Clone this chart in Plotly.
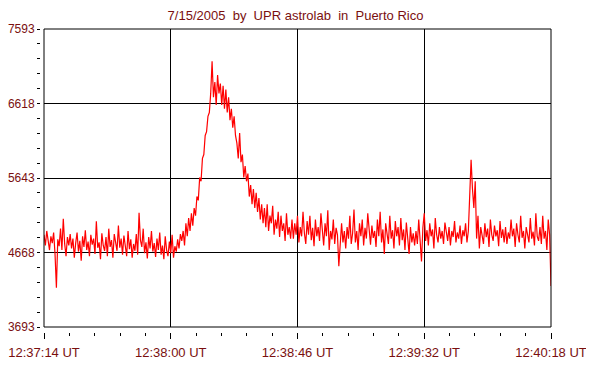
import plotly.graph_objects as go

# sample interval (s) and start of record
t_step = 0.5
values = [
    4900, 4760, 4950, 4820, 4700, 4880, 4790, 4930, 4650, 4206, 4840, 4750, 4980, 4700, 5110, 4780, 4620, 4870, 4760, 4910,
    4720, 4850, 4600, 4790, 4930, 4680, 4820, 4560, 4880, 4740, 4960, 4700, 4810, 4620, 4900, 4770, 4850, 4650, 5075, 4730,
    4800, 4580, 4920, 4760, 4690, 4870, 4620, 4980, 4740, 4830, 4600, 4910, 4780, 4690, 5020, 4730, 4850, 4640, 4890, 4760,
    4620, 4950, 4710, 4840, 4600, 4780, 4690, 4910, 4640, 5188, 4830, 4740, 4980, 4660, 4800, 4590, 4870, 4720, 4950, 4680,
    4790, 4610, 4850, 4700, 4930, 4640, 4760, 4580, 4880, 4700, 4620, 4810, 4660, 4900, 4600, 4750, 4680, 4840, 4720, 4910,
    4820, 4950, 4760, 5050, 4880, 5120, 4950, 5180, 5020, 5250, 5150, 5400, 5350, 5650, 5600, 5900, 5950, 6200, 6250, 6450,
    6500, 6750, 7172, 6700, 6900, 6600, 6990, 6750, 6880, 6600, 6850, 6550, 6800, 6500, 6700, 6400, 6550, 6300, 6450, 6200,
    6100, 5900, 6230, 5850, 5950, 5650, 5800, 5600, 5700, 5400, 5550, 5300, 5500, 5250, 5450, 5200, 5380, 5100, 5300, 5050,
    5250, 5000, 5300, 4950, 5150, 5050, 5280, 4900, 5100, 4980, 5200, 4870, 5150, 4950, 5050, 4820, 5180, 4900, 5000, 4850,
    5100, 4850, 5050, 4900, 5150, 4800, 5000, 4880, 5200, 4920, 4780, 5080, 4900, 5150, 4830, 4990, 4750, 5100, 4880, 5000,
    4820, 5180, 4900, 4760, 5050, 4880, 5220, 4700, 4950, 4840, 5100, 4780, 4990, 4900, 4490, 4860, 5050, 4800, 4950, 4720,
    5000, 4850, 5150, 4780, 4920, 5230, 4800, 4950, 4700, 5050, 4880, 5100, 4760, 4990, 4850, 5180, 4900, 4770, 5020, 4860,
    4950, 4740, 5100, 4880, 5200, 4800, 4970, 4650, 5050, 4900, 4780, 5150, 4850, 4960, 4720, 5080, 4880, 5000, 4760, 5120,
    4830, 4970, 4700, 5060, 4880, 4650, 5000, 4800, 4920, 4760, 4950, 4780, 5100, 4860, 4550, 4990, 5180, 4820, 4960, 4760,
    5050, 4880, 4970, 4720, 5120, 4900, 4800, 5000, 4850, 4950, 4780, 5060, 4900, 4820, 5000, 4760, 4950, 4870, 5080, 4800,
    4930, 4850, 5020, 4780, 4960, 4880, 5050, 4800, 4950, 5400, 5880, 5500, 5250, 5600, 4850, 5150, 4720, 5000, 4900, 4780,
    5050, 4870, 4980, 4740, 5100, 4900, 4820, 5020, 4880, 4960, 4750, 5080, 4860, 4970, 4800, 5000, 4780, 4930, 4850, 5100,
    4880, 4980, 4740, 5050, 4900, 4800, 5150, 4860, 4950, 4720, 5000, 4880, 4800, 5120, 4850, 4940, 4760, 5180, 4880, 4820,
    5000, 4780, 5150, 4850, 4950, 4700, 5100, 4900, 4230,
]
times = [i * t_step for i in range(len(values))]

x_tickvals = [0, 46, 92, 138, 184]
x_ticktext = ["12:37:14 UT", "12:38:00 UT", "12:38:46 UT", "12:39:32 UT", "12:40:18 UT"]
y_tickvals = [3693, 4668, 5643, 6618, 7593]
title_text = "7/15/2005\u00a0\u00a0by\u00a0\u00a0UPR astrolab\u00a0\u00a0in\u00a0\u00a0Puerto Rico"

label_color = "#7a0f0f"
font_family = "Arial, Liberation Sans, sans-serif"

W, H = 586, 359  # page body has an 8px default margin

fig = go.Figure()
fig.add_trace(go.Scatter(x=times, y=values, mode="lines",
                         line=dict(color="#ff0000", width=1.2), hoverinfo="skip"))

fig.update_layout(
    width=W, height=H,
    margin=dict(l=32, r=43, t=21, b=35, autoexpand=False),
    paper_bgcolor="white", plot_bgcolor="white",
    showlegend=False,
    font=dict(family=font_family, size=13, color=label_color),
    title=dict(text=title_text, x=0.5, xanchor="center", xref="paper",
               y=1 - 3 / H, yanchor="top", yref="container",
               font=dict(family=font_family, size=13, color=label_color)),
    xaxis=dict(
        range=[0, 184], domain=[4 / 511, 1], anchor="free", position=0,
        automargin=False,
        tickvals=x_tickvals, ticktext=x_ticktext,
        ticks="outside", ticklen=6, tickwidth=1, tickcolor="black",
        ticklabelstandoff=2,
        showgrid=True, gridcolor="black", gridwidth=1,
        showline=False, zeroline=False,
        minor=dict(dtick=9.2, tick0=0, ticks="outside", ticklen=3, tickcolor="black", showgrid=False),
        tickfont=dict(size=13, color=label_color),
    ),
    yaxis=dict(
        range=[3693, 7593], domain=[5 / 303, 1], anchor="free", position=0,
        automargin=False,
        tickvals=y_tickvals, ticks="outside", ticklen=3, tickwidth=1, tickcolor="black",
        showgrid=True, gridcolor="black", gridwidth=1,
        showline=False, zeroline=False,
        minor=dict(dtick=195, tick0=3693, ticks="outside", ticklen=3, tickcolor="black", showgrid=False),
        tickfont=dict(size=12, color=label_color),
    ),
    shapes=[dict(type="rect", xref="x domain", yref="y domain", x0=0, x1=1, y0=0, y1=1,
                 line=dict(color="black", width=1), layer="above")],
)

fig.write_html("out.html")
